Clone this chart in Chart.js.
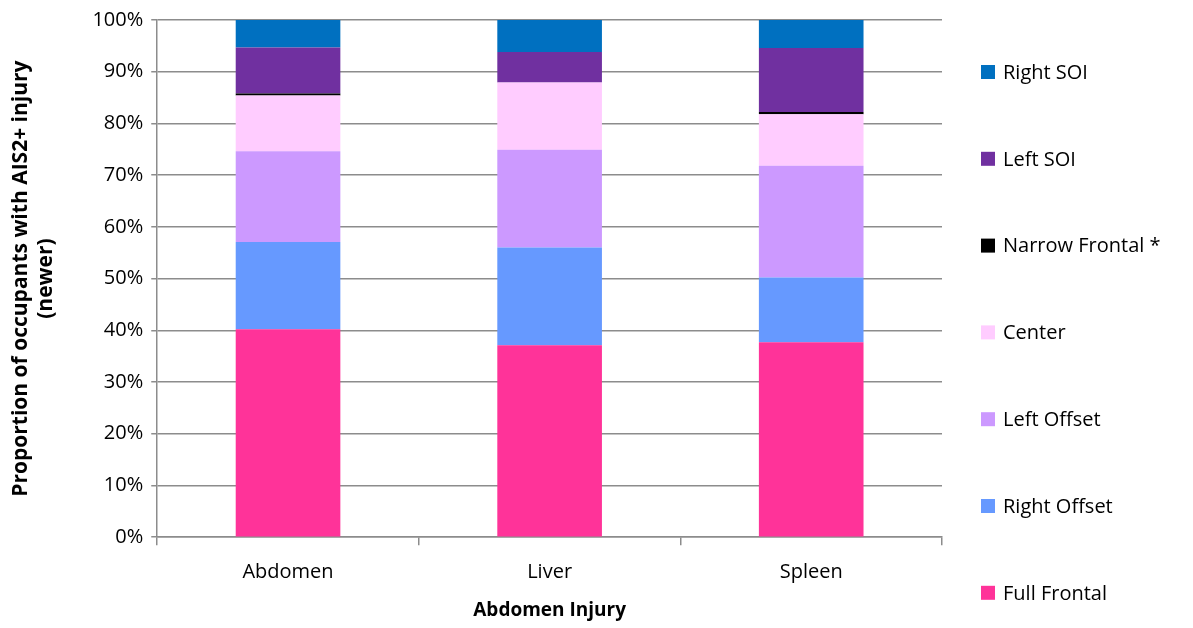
<!DOCTYPE html>
<html>
<head>
<meta charset="utf-8">
<script src="https://cdn.jsdelivr.net/npm/chart.js@4"></script>
<style>
  html, body { margin: 0; padding: 0; background: #fff; }
  #wrap { width: 1193px; height: 628px; }
</style>
</head>
<body>
<div id="wrap"><canvas id="chart" width="1193" height="628"></canvas></div>
<script>
// categories and series (percent of occupants)
const categories = ['Abdomen', 'Liver', 'Spleen'];
const fullFrontal   = [40.2, 37.1, 37.7];
const rightOffset   = [16.9, 18.9, 12.5];
const leftOffset    = [17.5, 18.9, 21.6];
const center        = [10.8, 13.0, 10.0];
const narrowFrontal = [0.4, 0.0, 0.4];
const leftSOI       = [8.9, 5.9, 12.4];
const rightSOI      = [5.3, 6.2, 5.4];

const seriesNames  = ['Full Frontal', 'Right Offset', 'Left Offset', 'Center', 'Narrow Frontal *', 'Left SOI', 'Right SOI'];
const seriesValues = [fullFrontal, rightOffset, leftOffset, center, narrowFrontal, leftSOI, rightSOI];
const seriesColors = ['#FF3399', '#6699FF', '#CC99FF', '#FFCCFF', '#000000', '#7030A0', '#0070C0'];

const FONT = "'Open Sans', 'Liberation Sans', sans-serif";
const GRID = '#8c8c8c';

// legend drawn on the right, top item = last series
const sideLegend = {
  id: 'sideLegend',
  afterDraw(chart) {
    const ctx = chart.ctx;
    const n = chart.data.datasets.length;
    ctx.save();
    ctx.font = '20px ' + FONT;
    ctx.textBaseline = 'middle';
    ctx.textAlign = 'left';
    for (let i = 0; i < n; i++) {
      const ds = chart.data.datasets[n - 1 - i];
      const y = 72 + i * 86.8;
      ctx.fillStyle = ds.backgroundColor;
      ctx.fillRect(981, y - 7, 14, 14);
      ctx.fillStyle = '#000';
      ctx.fillText(ds.label, 1003, y + 1);
    }
    ctx.restore();
  }
};

new Chart(document.getElementById('chart'), {
  type: 'bar',
  data: {
    labels: categories,
    datasets: seriesNames.map((name, i) => ({
      label: name,
      data: seriesValues[i],
      backgroundColor: seriesColors[i],
      borderWidth: 0,
      categoryPercentage: 1,
      barPercentage: 0.4
    }))
  },
  options: {
    responsive: false,
    animation: false,
    layout: { padding: { left: 8, right: 251, top: 2, bottom: 6 } },
    plugins: {
      legend: { display: false },
      tooltip: { enabled: false }
    },
    scales: {
      x: {
        stacked: true,
        grid: {
          offset: true,
          color: c => (c.index === categories.length ? GRID : 'rgba(0,0,0,0)'),
          lineWidth: 1.5,
          tickColor: GRID,
          tickLength: 8
        },
        border: { color: GRID, width: 1.5 },
        ticks: { color: '#000', font: { family: FONT, size: 20 }, padding: 15 },
        title: {
          display: true,
          text: 'Abdomen Injury',
          color: '#000',
          font: { family: FONT, size: 19, weight: 'bold' },
          padding: { top: 0, bottom: 0 }
        }
      },
      y: {
        stacked: true,
        min: 0,
        max: 100,
        grid: { color: GRID, lineWidth: 1.5, tickColor: GRID, tickLength: 6 },
        border: { color: GRID, width: 1.5 },
        ticks: {
          stepSize: 10,
          color: '#000',
          padding: 8,
          font: { family: FONT, size: 20 },
          callback: v => v + '%'
        },
        title: {
          display: true,
          text: ['Proportion of occupants with AIS2+ injury', '(newer)'],
          color: '#000',
          font: { family: FONT, size: 21, weight: 'bold' },
          padding: { top: 0, bottom: 26 }
        }
      }
    }
  },
  plugins: [sideLegend]
});
</script>
</body>
</html>
